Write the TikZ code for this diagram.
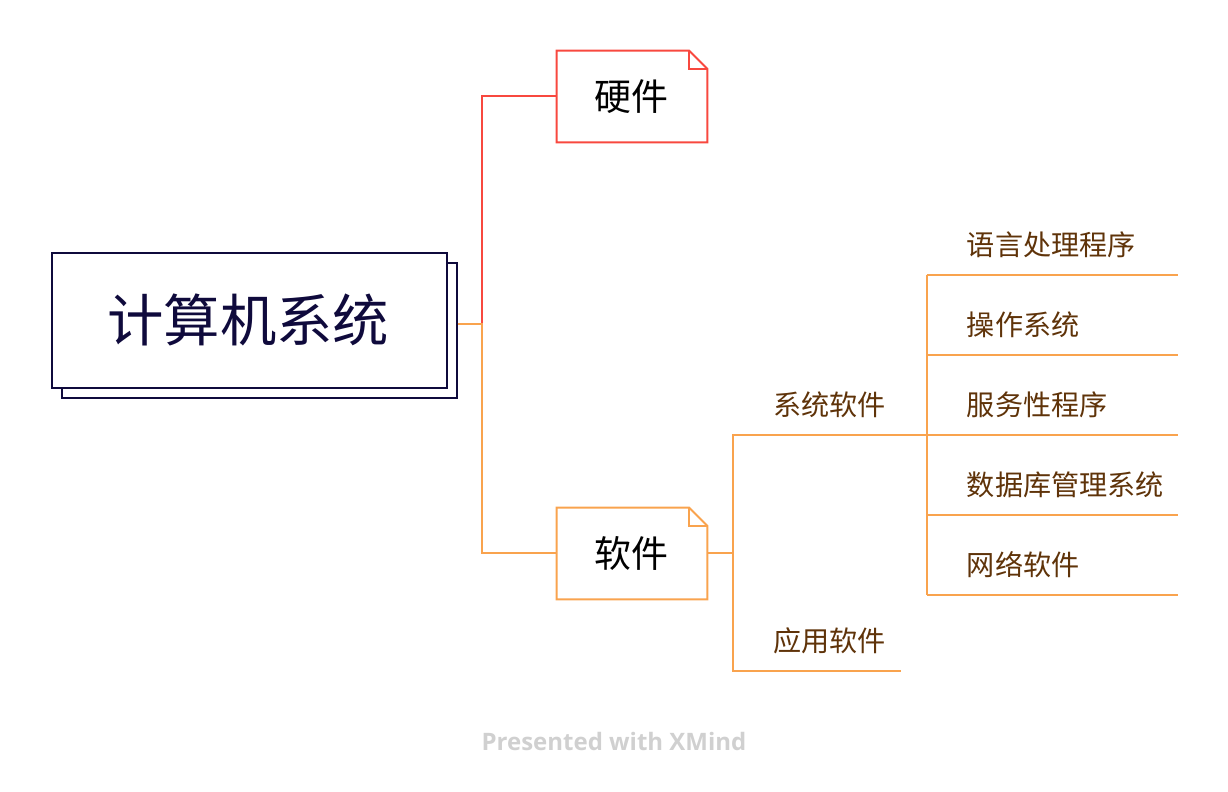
\documentclass[tikz,border=0pt]{standalone}
\usepackage{fontspec}
\usetikzlibrary{calc}
\newfontfamily\cjk{Noto Sans CJK SC}
\newfontfamily\latinf{Open Sans}
\definecolor{cred}{HTML}{F8483F}
\definecolor{corange}{HTML}{F9A34E}
\definecolor{cnavy}{HTML}{0F0A3C}
\definecolor{cbrown}{HTML}{5F3309}
\definecolor{cfoot}{HTML}{D0D0D0}
\tikzset{
  rootbox/.style={draw=cnavy,fill=white,line width=1.5pt,minimum width=296.25pt,minimum height=101.25pt,inner sep=0pt,text=cnavy,font=\cjk\fontsize{42.3}{46}\selectfont},
  notebox/.style={minimum width=112.5pt,minimum height=68.25pt,inner sep=0pt,text=black,font=\cjk\fontsize{27.7}{30}\selectfont},
  notefold/.style={line width=1.5pt,line join=miter},
  linetopic/.style={inner sep=0pt,inner xsep=0pt,align=left,text=cbrown,minimum height=45pt,font=\cjk\fontsize{21.1}{24}\selectfont},
  conn/.style={line width=1.3pt,draw=corange,line join=miter},
  connred/.style={line width=1.3pt,draw=cred,line join=miter}
}
\begin{document}
\begin{tikzpicture}[x=0.75pt,y=-0.75pt]
\useasboundingbox (0,0) rectangle (1228,792);
% root
\node[rootbox,fill=white] (shadow) at (259,330) {};
\node[rootbox] (root) at (249,320) {\kern-1pt 计算机系统};
% main topics
\node[notebox] (hw) at (632,96.5) {\kern-1pt 硬件};
\node[notebox] (sw) at (632,553.5) {\kern-1pt 软件};
\foreach \n/\c in {hw/cred,sw/corange}{
  \draw[notefold,draw=\c] ($(\n.north east)+(-18,0)$) -- (\n.north west) -- (\n.south west) -- (\n.south east) -- ($(\n.north east)+(0,18)$) -- cycle;
  \draw[notefold,draw=\c] ($(\n.north east)+(-18,0)$) -- ($(\n.north east)+(-18,18)$) -- ($(\n.north east)+(0,18)$);
}
% second level
\node[linetopic,text width=145.5pt] (sys) at (830,405) {\hspace*{30pt}系统软件};
\node[linetopic,text width=126pt] (app) at (817,640.5) {\hspace*{30pt}应用软件};
% third level
\node[linetopic,text width=188.25pt] (lang) at (1052.5,245) {\hspace*{29.9pt}语言处理程序};
\node[linetopic,text width=188.25pt] (os) at (1052.5,325) {\hspace*{29.9pt}操作系统};
\node[linetopic,text width=188.25pt] (svc) at (1052.5,405) {\hspace*{29.9pt}服务性程序};
\node[linetopic,text width=188.25pt] (db) at (1052.5,485) {\hspace*{29.9pt}数据库管理系统};
\node[linetopic,text width=188.25pt] (net) at (1052.5,565) {\hspace*{29.9pt}网络软件};
% junctions
\coordinate (jroot) at (482,324);
\coordinate (jhw) at (482,96);
\coordinate (jsw) at (482,553);
\coordinate (jsub) at (733.5,553);
% connectors
\draw[connred] (jroot) -- (jhw) -- (jhw -| hw.west);
\draw[conn] (shadow.east |- jroot) -- (jroot) -- (jsw) -- (jsw -| sw.west);
\draw[conn] (jsub -| sw.east) -- (jsub);
\draw[conn] (sys.south east) -- (sys.south west) -- (app.south west) -- (app.south east);
\foreach \n in {lang,os,svc,db,net}{
  \draw[conn] (\n.south west) -- (\n.south east);
}
\draw[conn] (lang.south west) -- (net.south west);
% footer
\node[inner sep=0pt,text=cfoot,font=\latinf\bfseries\fontsize{18}{20}\selectfont] (foot) at (614,741.5) {Presented with XMind};
\end{tikzpicture}
\end{document}
